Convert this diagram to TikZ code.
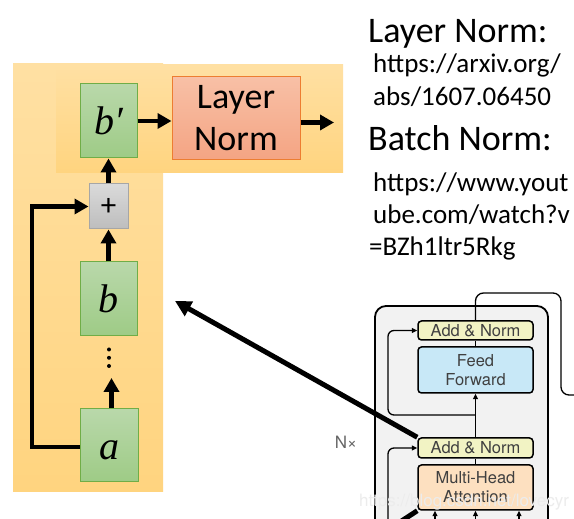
\documentclass[tikz,border=0pt]{standalone}
\usepackage{fontspec}
\setmainfont{Carlito}
\newfontfamily\helv{TeX Gyre Heros}
\newfontfamily\vecfont{Liberation Serif}
\usetikzlibrary{arrows.meta}
\definecolor{bgtop}{HTML}{FFE0A3}
\definecolor{bgbot}{HTML}{FFD47F}
\definecolor{grtop}{HTML}{B9D8AA}
\definecolor{grbot}{HTML}{9ECB86}
\definecolor{grbd}{HTML}{70AD47}
\definecolor{lntop}{HTML}{F8C0A6}
\definecolor{lnbot}{HTML}{F4A483}
\definecolor{lnbd}{HTML}{ED7D31}
\definecolor{gytop}{HTML}{DADADA}
\definecolor{gybot}{HTML}{BDBDBD}
\definecolor{gybd}{HTML}{A6A6A6}
\definecolor{tgray}{HTML}{F2F2F2}
\definecolor{tyel}{HTML}{F2F3C4}
\definecolor{tblue}{HTML}{C8E8F7}
\definecolor{tpeach}{HTML}{FDE0C0}
\definecolor{ttext}{HTML}{404040}
\begin{document}
\begin{tikzpicture}[x=1pt,y=1pt,
  vecbox/.style={draw=grbd, line width=1pt, top color=grtop, bottom color=grbot,
    minimum width=57pt, minimum height=74pt, inner sep=0pt,
    text height=28pt, text depth=0pt,
    font=\vecfont\itshape\fontsize{40}{42}\selectfont},
  lnbox/.style={draw=lnbd, line width=1pt, top color=lntop, bottom color=lnbot,
    minimum width=128pt, minimum height=83pt, inner sep=0pt, align=center,
    font=\fontsize{36}{42}\selectfont},
  plusbox/.style={draw=gybd, line width=1pt, top color=gytop, bottom color=gybot,
    minimum width=39pt, minimum height=45pt, inner sep=0pt,
    font=\fontsize{31}{32}\selectfont},
  bigarr/.style={line width=4.5pt, -{Triangle[length=14pt,width=15pt]}},
  tbox/.style={draw, line width=1.5pt, rounded corners=3.5pt, minimum width=115pt,
    inner sep=0pt, align=center, text=ttext,
    font=\helv\fontsize{16.5}{19}\selectfont},
  tarr/.style={line width=1.3pt, -{Triangle[length=5.5pt,width=5pt]}},
  tline/.style={line width=1.3pt},
  head/.style={anchor=base west, inner sep=0pt, font=\fontsize{36}{40}\selectfont},
  url/.style={anchor=base west, inner sep=0pt, font=\fontsize{27}{30}\selectfont}]
\useasboundingbox (0,0) rectangle (574,519);
\fill[white] (0,0) rectangle (574,519);

% ---------- left diagram ----------
\shade[top color=bgtop, bottom color=bgbot] (13,455) rectangle (163,27);
\shade[top color=bgtop, bottom color=bgbot] (56,454) rectangle (343,346);

\node[vecbox] (bp) at (108.5,398) {b′};
\node[lnbox] (LN) at (236,400.5) {Layer\\Norm};
\node[plusbox] (plus) at (108.5,312.5) {+};
\node[vecbox] (b) at (108.5,220) {b};
\node[vecbox, minimum width=58pt, minimum height=73pt] (a) at (109,73.5) {a};

\coordinate (dots) at (109,161);
\fill (109,169.5) circle (2pt) (109,161.2) circle (2pt) (109,153) circle (2pt);

\coordinate (dotsbot) at (111.5,141);
\coordinate (res) at (32,72);
\coordinate (lnout) at (334,396.5);

\draw[bigarr] (b.north) -- (plus.south);
\draw[bigarr] (plus.north) -- (bp.south);
\draw[bigarr] (a.north -| dotsbot) -- (dotsbot);
\draw[bigarr] (a.west |- res) -- (res) |- (plus.west);
\draw[bigarr] (bp.east) -- (bp.east -| LN.west);
\draw[bigarr] (LN.east |- lnout) -- (lnout);

% ---------- right texts ----------
\node[head] (t1) at (368,476) {Layer Norm:};
\node[url]  (t2) at (373,446) {https://arxiv.org/};
\node[url]  (t3) at (373,413) {abs/1607.06450};
\node[head] (t4) at (368,368) {Batch Norm:};
\node[url]  (t5) at (373,327) {https://www.yout};
\node[url]  (t6) at (373,295) {ube.com/watch?v};
\node[url]  (t7) at (369,263) {=BZh1ltr5Rkg};

% ---------- transformer crop ----------
\draw[fill=tgray, line width=1.8pt, rounded corners=11pt] (375,-20) rectangle (548,213);

\node[tbox, fill=tyel, minimum height=19pt] (an1) at (475.5,188.5) {Add \& Norm};
\node[tbox, fill=tblue, minimum height=46pt] (FF) at (475.5,149) {Feed\\Forward};
\node[tbox, fill=tyel, minimum height=20pt] (an2) at (475.5,71) {Add \& Norm};
\node[tbox, fill=tpeach, minimum height=45pt] (MHA) at (475.5,31.5) {Multi-Head\\Attention};

\coordinate (fork) at (475.5,104);
\coordinate (outr) at (561,226);
\coordinate (outx) at (590,124);
\draw[tline, rounded corners=8pt] (an1.north) |- (outr) |- (outx);
\draw[tline] (FF.north) -- (an1.south);
\draw[tarr] (an2.north) -- (FF.south);
\draw[tarr, rounded corners=6pt] (fork) -| (388,150) |- (an1.west);
\draw[tline] (MHA.north) -- (an2.south);
\coordinate (resb) at (388,-10);
\draw[tarr, rounded corners=6pt] (resb) |- (an2.west);
\coordinate (in1) at (435,-5);
\coordinate (in2) at (475.5,-5);
\coordinate (in3) at (519,-5);
\draw[tarr] (in1) -- (in1 |- MHA.south);
\draw[tarr] (in2) -- (MHA.south);
\draw[tarr] (in3) -- (in3 |- MHA.south);
\coordinate (k1) at (400,-3);
\draw[line width=5pt] (k1) -- (MHA.south west);

\node[text=ttext!80, font=\helv\fontsize{17}{19}\selectfont] (nx) at (346,77) {N×};

% big arrow from transformer to left diagram
\coordinate (tip) at (175,218);
\draw[line width=5pt, -{Triangle[length=16pt,width=16pt]}] (an2.north west) -- (tip);

% watermark
\node[text=white!85!gray, font=\helv\fontsize{17}{19}\selectfont, inner sep=0pt] (wm) at (464,17) {https://blog.csdn.net/lovecyr};
\end{tikzpicture}
\end{document}
